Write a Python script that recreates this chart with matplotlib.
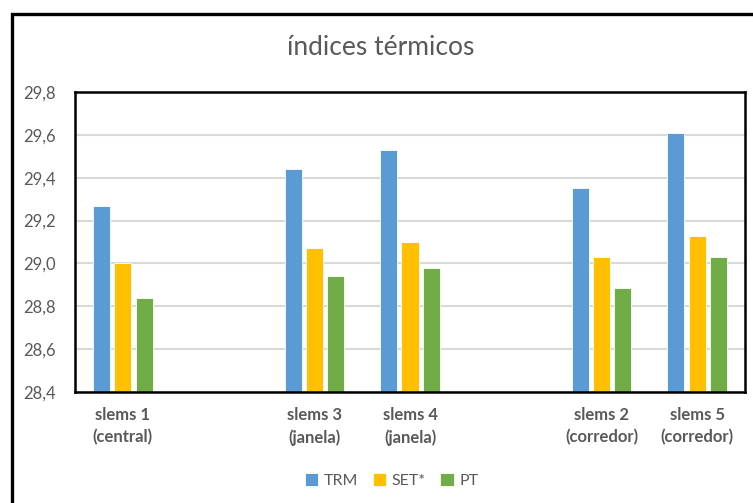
import numpy as np
import matplotlib.pyplot as plt
from matplotlib.patches import Rectangle

plt.rcParams['font.family'] = ['Lato', 'DejaVu Sans']

# categorias (posicoes vazias separam os grupos)
categorias = ["slems 1\n(central)", "", "slems 3\n(janela)", "slems 4\n(janela)",
              "", "slems 2\n(corredor)", "slems 5\n(corredor)"]
trm = [29.27, np.nan, 29.44, 29.53, np.nan, 29.35, 29.61]
set_ = [29.00, np.nan, 29.07, 29.10, np.nan, 29.03, 29.13]
pt = [28.84, np.nan, 28.94, 28.98, np.nan, 28.885, 29.03]

series = [("TRM", trm, "#5B9BD5"), ("SET*", set_, "#FFC000"), ("PT", pt, "#70AD47")]

fig = plt.figure(figsize=(7.53, 5.03), dpi=100)
ax = fig.add_axes([0.0996, 0.2207, 0.8898, 0.5964])

x = np.arange(len(categorias))
w = 0.178
passo = 0.222
base = 28.4
for i, (nome, vals, cor) in enumerate(series):
    v = np.array(vals, dtype=float)
    ax.bar(x + (i - 1) * passo, v - base, bottom=base, width=w, color=cor,
           edgecolor="white", linewidth=0.6, label=nome, zorder=3)

ax.set_xlim(-0.5, len(categorias) - 0.5)
ax.set_ylim(28.4, 29.8)
yt = np.arange(28.4, 29.81, 0.2)
ax.set_yticks(yt)
ax.set_yticklabels([f"{t:.1f}".replace(".", ",") for t in yt])
ax.set_xticks(x)
ax.set_xticklabels(categorias, fontweight="bold", linespacing=1.45)
ax.tick_params(axis="y", length=0, pad=14, labelsize=12, labelcolor="#595959")
ax.tick_params(axis="x", length=0, pad=11, labelsize=12, labelcolor="#595959")
ax.grid(axis="y", color="#D9D9D9", linewidth=1.5, zorder=0)
for s in ax.spines.values():
    s.set_color("black")
    s.set_linewidth(1.8)
    s.set_zorder(4)

fig.text(0.505, 0.905, "índices térmicos", ha="center", va="center",
         fontsize=19, color="#595959")

leg = fig.legend(loc="center", bbox_to_anchor=(0.52, 0.045), ncol=3,
                 frameon=False, fontsize=11.5, handlelength=0.85, handleheight=0.85,
                 handletextpad=0.35, columnspacing=0.9)
for t in leg.get_texts():
    t.set_color("#595959")

# moldura externa do grafico
fig.patches.append(Rectangle((12 / 753, -0.05), 1.0, 1 - 14 / 503 + 0.05,
                             transform=fig.transFigure, fill=False,
                             edgecolor="black", linewidth=2.4))

fig.savefig("out.png", dpi=100)
